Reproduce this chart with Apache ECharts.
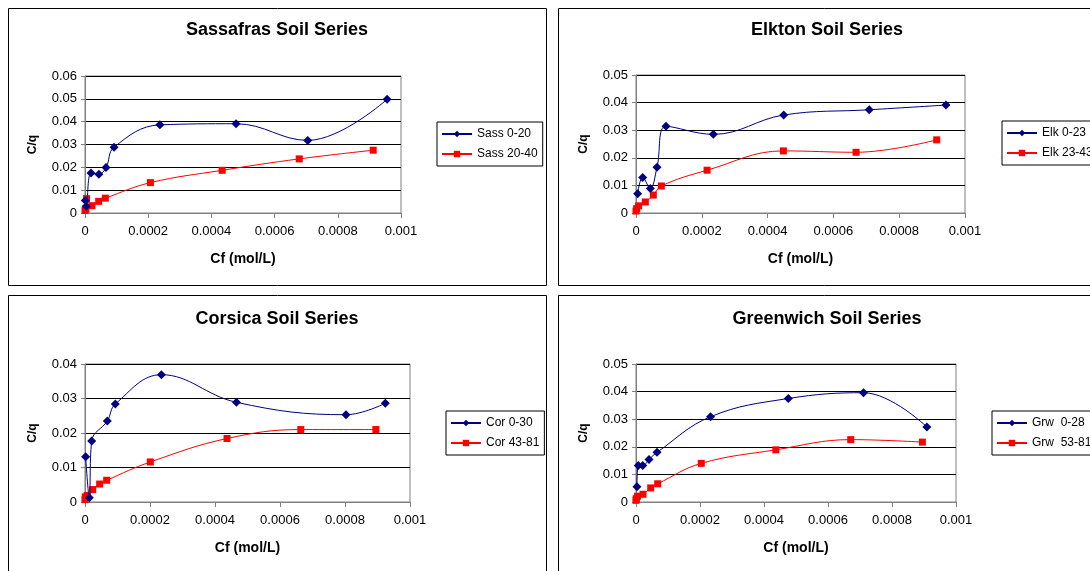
<!DOCTYPE html>
<html>
<head>
<meta charset="utf-8">
<script src="https://cdn.jsdelivr.net/npm/echarts@6/dist/echarts.min.js"></script>
<style>html,body{margin:0;padding:0;background:#fff}#c{width:1090px;height:571px}</style>
</head>
<body>
<div id="c"></div>
<script>
// ---- Data ----
const titles = ['Sassafras Soil Series', 'Elkton Soil Series', 'Corsica Soil Series', 'Greenwich Soil Series'];
const names1 = ['Sass 0-20', 'Sass 20-40'];
const names2 = ['Elk 0-23', 'Elk 23-43'];
const names3 = ['Cor 0-30', 'Cor 43-81'];
const names4 = ['Grw  0-28', 'Grw  53-81'];
const yMax = [0.06, 0.05, 0.04, 0.05];
const xTicks = [0, 0.0002, 0.0004, 0.0006, 0.0008, 0.001];

const sassAx = [0.000001, 0.000004, 0.000019, 0.000044, 0.0000665, 0.000092, 0.000237, 0.000478, 0.000705, 0.000956];
const sassAy = [0.0055, 0.003, 0.0175, 0.0170, 0.0199, 0.0288, 0.0386, 0.0391, 0.0318, 0.0498];
const sassBx = [0, 0.000003, 0.000005, 0.000022, 0.0000433, 0.0000644, 0.000207, 0.000434, 0.000678, 0.000912];
const sassBy = [0.0011, 0.0017, 0.0063, 0.0032, 0.0051, 0.0065, 0.0133, 0.0187, 0.0237, 0.0275];

const elkAx = [0.000005, 0.0000203, 0.0000435, 0.0000638, 0.0000912, 0.000235, 0.000449, 0.000709, 0.000942];
const elkAy = [0.0070, 0.0129, 0.0089, 0.0166, 0.0314, 0.0285, 0.0355, 0.0374, 0.0391];
const elkBx = [0, 0.000002, 0.000008, 0.0000284, 0.0000527, 0.000077, 0.000216, 0.000448, 0.000669, 0.000914];
const elkBy = [0.0007, 0.0016, 0.0026, 0.0040, 0.0065, 0.0098, 0.0155, 0.0225, 0.0220, 0.0265];

const corAx = [0.000002, 0.0000133, 0.0000205, 0.0000687, 0.0000933, 0.000235, 0.000466, 0.000803, 0.000924];
const corAy = [0.0131, 0.0012, 0.0177, 0.0235, 0.0284, 0.0369, 0.0289, 0.0253, 0.0286];
const corBx = [0, 0.000001, 0.000007, 0.0000236, 0.0000451, 0.0000667, 0.000201, 0.000437, 0.000664, 0.000895];
const corBy = [0.0007, 0.0015, 0.0019, 0.0036, 0.0052, 0.0063, 0.0116, 0.0184, 0.0210, 0.0210];

const grwAx = [0.000003, 0.0000073, 0.000021, 0.0000406, 0.0000656, 0.000233, 0.000476, 0.000711, 0.000909];
const grwAy = [0.0055, 0.0132, 0.0132, 0.0154, 0.0180, 0.0309, 0.0375, 0.0396, 0.0272];
const grwBx = [0, 0.000001, 0.000005, 0.0000219, 0.0000459, 0.0000678, 0.000204, 0.000437, 0.000671, 0.000895];
const grwBy = [0.0006, 0.0012, 0.0021, 0.0028, 0.0051, 0.0066, 0.0140, 0.0189, 0.0226, 0.0217];

// ---- Layout ----
const zip = (xs, ys) => xs.map((x, i) => [x, ys[i]]);
const grids = [
  {left: 85, top: 76, width: 316, height: 137},
  {left: 636, top: 75, width: 329, height: 138},
  {left: 85, top: 364, width: 325, height: 138},
  {left: 636, top: 364, width: 320, height: 138}
];
const titlePos = [[277, 21], [827, 21], [277, 310], [827, 310]];
const legendPos = [[437, 122], [1002, 121], [446, 411], [992, 411]];
const names = [names1, names2, names3, names4];
const dataSets = [
  [zip(sassAx, sassAy), zip(sassBx, sassBy)],
  [zip(elkAx, elkAy), zip(elkBx, elkBy)],
  [zip(corAx, corAy), zip(corBx, corBy)],
  [zip(grwAx, grwAy), zip(grwBx, grwBy)]
];
const FONT = 'Liberation Sans, Arial, sans-serif';

const option = {
  animation: false,
  backgroundColor: '#fff',
  graphic: [
    {type: 'rect', shape: {x: 8.5, y: 8.5, width: 538, height: 277}, style: {fill: 'none', stroke: '#000', lineWidth: 1}},
    {type: 'rect', shape: {x: 558.5, y: 8.5, width: 545, height: 277}, style: {fill: 'none', stroke: '#000', lineWidth: 1}},
    {type: 'rect', shape: {x: 8.5, y: 295.5, width: 538, height: 290}, style: {fill: 'none', stroke: '#000', lineWidth: 1}},
    {type: 'rect', shape: {x: 558.5, y: 295.5, width: 545, height: 290}, style: {fill: 'none', stroke: '#000', lineWidth: 1}}
  ],
  title: titles.map((t, i) => ({
    text: t, left: titlePos[i][0], top: titlePos[i][1], textAlign: 'center', padding: 0,
    textStyle: {fontFamily: FONT, fontSize: 18, fontWeight: 'bold', color: '#000'}
  })),
  legend: names.map((n, i) => ({
    data: n, orient: 'vertical', left: legendPos[i][0], top: legendPos[i][1],
    padding: [6, 5, 6, 4], itemGap: 8, itemWidth: 30, itemHeight: 8,
    borderColor: '#000', borderWidth: 1, backgroundColor: '#fff',
    textStyle: {fontFamily: FONT, fontSize: 12, color: '#000'}
  })),
  grid: grids.map(g => Object.assign({show: true, borderColor: '#808080', borderWidth: 1, backgroundColor: 'transparent'}, g)),
  xAxis: grids.map((g, i) => ({
    type: 'value', gridIndex: i, min: xTicks[0], max: xTicks[xTicks.length - 1], interval: 0.0002,
    name: 'Cf (mol/L)', nameLocation: 'middle', nameGap: 39,
    nameTextStyle: {fontFamily: FONT, fontSize: 14, fontWeight: 'bold', color: '#000'},
    axisLine: {show: true, onZero: false, lineStyle: {color: '#808080', width: 1}},
    axisTick: {show: true, length: 5, lineStyle: {color: '#808080'}},
    axisLabel: {fontFamily: FONT, fontSize: 13, color: '#000', margin: 12},
    splitLine: {show: false}
  })),
  yAxis: grids.map((g, i) => ({
    type: 'value', gridIndex: i, min: 0, max: yMax[i], interval: 0.01,
    name: 'C/q', nameLocation: 'middle', nameGap: 46, nameRotate: 90,
    nameTextStyle: {fontFamily: FONT, fontSize: 12, fontWeight: 'bold', color: '#000'},
    axisLine: {show: true, lineStyle: {color: '#808080', width: 1}},
    axisTick: {show: true, length: 4, lineStyle: {color: '#808080'}},
    axisLabel: {fontFamily: FONT, fontSize: 13, color: '#000', margin: 8},
    splitLine: {show: true, lineStyle: {color: '#000', width: 1}}
  })),
  series: []
};

dataSets.forEach((pair, i) => {
  option.series.push({
    type: 'line', name: names[i][0], xAxisIndex: i, yAxisIndex: i, data: pair[0],
    smooth: 0.4, symbol: 'diamond', symbolSize: 9, clip: false,
    lineStyle: {color: '#000080', width: 1}, itemStyle: {color: '#000080'}, z: 3
  });
  option.series.push({
    type: 'line', name: names[i][1], xAxisIndex: i, yAxisIndex: i, data: pair[1],
    smooth: 0.4, symbol: 'rect', symbolSize: 7, clip: false,
    lineStyle: {color: '#ff0000', width: 1}, itemStyle: {color: '#ff0000'}, z: 2
  });
});

const chart = echarts.init(document.getElementById('c'), null, {renderer: 'canvas'});
chart.setOption(option);
</script>
</body>
</html>
